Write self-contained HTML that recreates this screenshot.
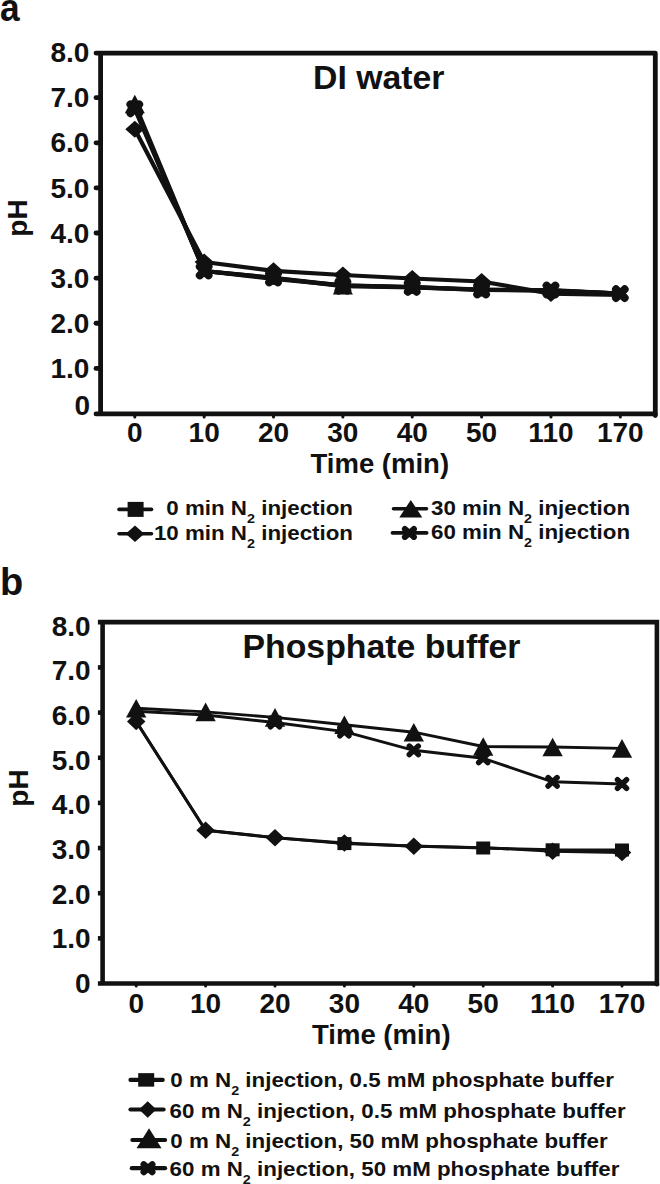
<!DOCTYPE html>
<html><head><meta charset="utf-8"><style>
html,body{margin:0;padding:0;background:#fff;width:660px;height:1184px;overflow:hidden}
svg{display:block}
text{font-family:"Liberation Sans", sans-serif;font-weight:bold;fill:#111}
</style></head><body>
<svg width="660" height="1184" viewBox="0 0 660 1184" fill="#111">
<text transform="translate(0 20.8) scale(0.93 1.04)" font-size="38">a</text>
<text x="0" y="594.7" font-size="38">b</text>
<path d="M96 53.1H655.3V413.9H96M100.6 53.1V413.9" fill="none" stroke="#111" stroke-width="4.8" stroke-linecap="round" stroke-linejoin="round"/>
<path d="M655.3 413.9V415.5" stroke="#111" stroke-width="4.8" stroke-linecap="round"/>
<path d="M96 368.38H100.6" stroke="#111" stroke-width="4.8" stroke-linecap="round"/>
<path d="M96 323.26H100.6" stroke="#111" stroke-width="4.8" stroke-linecap="round"/>
<path d="M96 278.14H100.6" stroke="#111" stroke-width="4.8" stroke-linecap="round"/>
<path d="M96 233.02H100.6" stroke="#111" stroke-width="4.8" stroke-linecap="round"/>
<path d="M96 187.9H100.6" stroke="#111" stroke-width="4.8" stroke-linecap="round"/>
<path d="M96 142.78H100.6" stroke="#111" stroke-width="4.8" stroke-linecap="round"/>
<path d="M96 97.66H100.6" stroke="#111" stroke-width="4.8" stroke-linecap="round"/>
<path d="M134.8 413.9V416.9" stroke="#111" stroke-width="3" stroke-linecap="round"/>
<path d="M204.16 413.9V416.9" stroke="#111" stroke-width="3" stroke-linecap="round"/>
<path d="M273.52 413.9V416.9" stroke="#111" stroke-width="3" stroke-linecap="round"/>
<path d="M342.88 413.9V416.9" stroke="#111" stroke-width="3" stroke-linecap="round"/>
<path d="M412.24 413.9V416.9" stroke="#111" stroke-width="3" stroke-linecap="round"/>
<path d="M481.6 413.9V416.9" stroke="#111" stroke-width="3" stroke-linecap="round"/>
<path d="M550.96 413.9V416.9" stroke="#111" stroke-width="3" stroke-linecap="round"/>
<path d="M620.32 413.9V416.9" stroke="#111" stroke-width="3" stroke-linecap="round"/>
<text x="90.2" y="415.1" text-anchor="end" font-size="28">0</text>
<text x="89.4" y="377.98" text-anchor="end" font-size="28">1.0</text>
<text x="89.4" y="332.86" text-anchor="end" font-size="28">2.0</text>
<text x="89.4" y="287.74" text-anchor="end" font-size="28">3.0</text>
<text x="89.4" y="242.62" text-anchor="end" font-size="28">4.0</text>
<text x="89.4" y="197.5" text-anchor="end" font-size="28">5.0</text>
<text x="89.4" y="152.38" text-anchor="end" font-size="28">6.0</text>
<text x="89.4" y="107.26" text-anchor="end" font-size="28">7.0</text>
<text x="89.4" y="62.14" text-anchor="end" font-size="28">8.0</text>
<text x="134.8" y="442.3" text-anchor="middle" font-size="28">0</text>
<text x="204.16" y="442.3" text-anchor="middle" font-size="28">10</text>
<text x="273.52" y="442.3" text-anchor="middle" font-size="28">20</text>
<text x="342.88" y="442.3" text-anchor="middle" font-size="28">30</text>
<text x="412.24" y="442.3" text-anchor="middle" font-size="28">40</text>
<text x="481.6" y="442.3" text-anchor="middle" font-size="28">50</text>
<text x="550.96" y="442.3" text-anchor="middle" font-size="28">110</text>
<text x="620.32" y="442.3" text-anchor="middle" font-size="28">170</text>
<text x="310.5" y="473.3" font-size="27.5">Time (min)</text>
<text transform="translate(26.5 218) rotate(-90)" text-anchor="middle" font-size="28">pH</text>
<text x="313" y="88.5" font-size="33.8">DI water</text>
<path d="M134.8 107L204.16 271L273.52 277.8L342.88 285.5L412.24 287L481.6 289.5L550.96 290.5L620.32 293.5" fill="none" stroke="#111" stroke-width="4.2" stroke-linejoin="round"/>
<path d="M134.8 129.3L204.16 262L273.52 270.8L342.88 275L412.24 278.5L481.6 281.5L550.96 293.6L620.32 295" fill="none" stroke="#111" stroke-width="4.2" stroke-linejoin="round"/>
<path d="M134.8 104L204.16 271L273.52 279L342.88 285.3L412.24 287.2L481.6 289.8L550.96 290.6L620.32 293.5" fill="none" stroke="#111" stroke-width="4.2" stroke-linejoin="round"/>
<path d="M134.8 108.8L204.16 271L273.52 278L342.88 286.2L412.24 287.4L481.6 290L550.96 290L620.32 293.6" fill="none" stroke="#111" stroke-width="4.2" stroke-linejoin="round"/>
<rect x="266.02" y="270.8" width="15" height="14"/>
<rect x="335.38" y="278.5" width="15" height="14"/>
<rect x="404.74" y="280" width="15" height="14"/>
<rect x="474.1" y="282.5" width="15" height="14"/>
<path d="M125.3 129.3L134.8 120.8L144.3 129.3L134.8 137.8Z"/>
<path d="M194.66 262L204.16 253.5L213.66 262L204.16 270.5Z"/>
<path d="M264.02 270.8L273.52 262.3L283.02 270.8L273.52 279.3Z"/>
<path d="M333.38 275L342.88 266.5L352.38 275L342.88 283.5Z"/>
<path d="M402.74 278.5L412.24 270L421.74 278.5L412.24 287Z"/>
<path d="M472.1 281.5L481.6 273L491.1 281.5L481.6 290Z"/>
<path d="M541.46 293.6L550.96 285.1L560.46 293.6L550.96 302.1Z"/>
<path d="M124.8 113.2L134.8 94.8L144.8 113.2Z"/>
<path d="M332.88 294.5L342.88 276.1L352.88 294.5Z"/>
<path d="M130.45 104.45L139.15 113.15M139.15 104.45L130.45 113.15" fill="none" stroke="#111" stroke-width="8" stroke-linecap="round"/>
<path d="M199.81 266.65L208.51 275.35M208.51 266.65L199.81 275.35" fill="none" stroke="#111" stroke-width="8" stroke-linecap="round"/>
<path d="M269.17 273.65L277.87 282.35M277.87 273.65L269.17 282.35" fill="none" stroke="#111" stroke-width="8" stroke-linecap="round"/>
<path d="M338.53 281.85L347.23 290.55M347.23 281.85L338.53 290.55" fill="none" stroke="#111" stroke-width="8" stroke-linecap="round"/>
<path d="M407.89 283.05L416.59 291.75M416.59 283.05L407.89 291.75" fill="none" stroke="#111" stroke-width="8" stroke-linecap="round"/>
<path d="M477.25 285.65L485.95 294.35M485.95 285.65L477.25 294.35" fill="none" stroke="#111" stroke-width="8" stroke-linecap="round"/>
<path d="M546.61 285.65L555.31 294.35M555.31 285.65L546.61 294.35" fill="none" stroke="#111" stroke-width="8" stroke-linecap="round"/>
<path d="M615.97 289.25L624.67 297.95M624.67 289.25L615.97 297.95" fill="none" stroke="#111" stroke-width="8" stroke-linecap="round"/>
<path d="M97.9 622.1H656.9V983.5H97.9M102.6 622.1V983.5" fill="none" stroke="#111" stroke-width="4.6" stroke-linecap="butt" stroke-linejoin="miter"/>
<path d="M656.9 983.5V984.3" stroke="#111" stroke-width="4.6" stroke-linecap="round"/>
<path d="M97.9 938.35H102.6" stroke="#111" stroke-width="4.6" stroke-linecap="butt"/>
<path d="M97.9 893.2H102.6" stroke="#111" stroke-width="4.6" stroke-linecap="butt"/>
<path d="M97.9 848.05H102.6" stroke="#111" stroke-width="4.6" stroke-linecap="butt"/>
<path d="M97.9 802.9H102.6" stroke="#111" stroke-width="4.6" stroke-linecap="butt"/>
<path d="M97.9 757.75H102.6" stroke="#111" stroke-width="4.6" stroke-linecap="butt"/>
<path d="M97.9 712.6H102.6" stroke="#111" stroke-width="4.6" stroke-linecap="butt"/>
<path d="M97.9 667.45H102.6" stroke="#111" stroke-width="4.6" stroke-linecap="butt"/>
<path d="M136.2 983.5V986" stroke="#111" stroke-width="3" stroke-linecap="round"/>
<path d="M205.6 983.5V986" stroke="#111" stroke-width="3" stroke-linecap="round"/>
<path d="M275 983.5V986" stroke="#111" stroke-width="3" stroke-linecap="round"/>
<path d="M344.4 983.5V986" stroke="#111" stroke-width="3" stroke-linecap="round"/>
<path d="M413.8 983.5V986" stroke="#111" stroke-width="3" stroke-linecap="round"/>
<path d="M483.2 983.5V986" stroke="#111" stroke-width="3" stroke-linecap="round"/>
<path d="M552.6 983.5V986" stroke="#111" stroke-width="3" stroke-linecap="round"/>
<path d="M622 983.5V986" stroke="#111" stroke-width="3" stroke-linecap="round"/>
<text x="90.6" y="993.1" text-anchor="end" font-size="28">0</text>
<text x="90.6" y="948.4" text-anchor="end" font-size="28">1.0</text>
<text x="90.6" y="903.7" text-anchor="end" font-size="28">2.0</text>
<text x="90.6" y="859" text-anchor="end" font-size="28">3.0</text>
<text x="90.6" y="814.3" text-anchor="end" font-size="28">4.0</text>
<text x="90.6" y="769.6" text-anchor="end" font-size="28">5.0</text>
<text x="90.6" y="724.9" text-anchor="end" font-size="28">6.0</text>
<text x="90.6" y="680.2" text-anchor="end" font-size="28">7.0</text>
<text x="90.6" y="635.5" text-anchor="end" font-size="28">8.0</text>
<text x="136.2" y="1012.8" text-anchor="middle" font-size="28">0</text>
<text x="205.6" y="1012.8" text-anchor="middle" font-size="28">10</text>
<text x="275" y="1012.8" text-anchor="middle" font-size="28">20</text>
<text x="344.4" y="1012.8" text-anchor="middle" font-size="28">30</text>
<text x="413.8" y="1012.8" text-anchor="middle" font-size="28">40</text>
<text x="483.2" y="1012.8" text-anchor="middle" font-size="28">50</text>
<text x="552.6" y="1012.8" text-anchor="middle" font-size="28">110</text>
<text x="622" y="1012.8" text-anchor="middle" font-size="28">170</text>
<text x="312" y="1043.9" font-size="27.5">Time (min)</text>
<text transform="translate(28 788) rotate(-90)" text-anchor="middle" font-size="28">pH</text>
<text x="242.5" y="657.8" font-size="33.8">Phosphate buffer</text>
<path d="M136.2 721.5L205.6 830.2L275 837.6L344.4 843.6L413.8 846L483.2 848L552.6 849.8L622 850" fill="none" stroke="#111" stroke-width="2.9" stroke-linejoin="round"/>
<path d="M136.2 721.5L205.6 830.2L275 837.8L344.4 843L413.8 846.3L483.2 847.6L552.6 851.3L622 852.5" fill="none" stroke="#111" stroke-width="2.9" stroke-linejoin="round"/>
<path d="M136.2 711.3L205.6 715L275 722.5L344.4 731.6L413.8 750.3L483.2 758.3L552.6 781.8L622 784" fill="none" stroke="#111" stroke-width="2.9" stroke-linejoin="round"/>
<path d="M136.2 708.3L205.6 711.9L275 717.4L344.4 724.8L413.8 732.2L483.2 746.5L552.6 747L622 748.4" fill="none" stroke="#111" stroke-width="2.9" stroke-linejoin="round"/>
<rect x="337.4" y="837.1" width="14" height="13"/>
<rect x="476.2" y="841.5" width="14" height="13"/>
<rect x="545.6" y="843.3" width="14" height="13"/>
<rect x="615" y="843.5" width="14" height="13"/>
<path d="M126.95 721.5L136.2 712.75L145.45 721.5L136.2 730.25Z"/>
<path d="M196.35 830.2L205.6 821.45L214.85 830.2L205.6 838.95Z"/>
<path d="M265.75 837.8L275 829.05L284.25 837.8L275 846.55Z"/>
<path d="M335.15 843L344.4 834.25L353.65 843L344.4 851.75Z"/>
<path d="M404.55 846.3L413.8 837.55L423.05 846.3L413.8 855.05Z"/>
<path d="M543.35 851.3L552.6 842.55L561.85 851.3L552.6 860.05Z"/>
<path d="M612.75 852.5L622 843.75L631.25 852.5L622 861.25Z"/>
<path d="M270.5 718.25L279.5 726.75M279.5 718.25L270.5 726.75" fill="none" stroke="#111" stroke-width="5.5" stroke-linecap="round"/>
<path d="M339.9 727.35L348.9 735.85M348.9 727.35L339.9 735.85" fill="none" stroke="#111" stroke-width="5.5" stroke-linecap="round"/>
<path d="M409.3 746.05L418.3 754.55M418.3 746.05L409.3 754.55" fill="none" stroke="#111" stroke-width="5.5" stroke-linecap="round"/>
<path d="M478.7 754.05L487.7 762.55M487.7 754.05L478.7 762.55" fill="none" stroke="#111" stroke-width="5.5" stroke-linecap="round"/>
<path d="M548.1 777.55L557.1 786.05M557.1 777.55L548.1 786.05" fill="none" stroke="#111" stroke-width="5.5" stroke-linecap="round"/>
<path d="M617.5 779.75L626.5 788.25M626.5 779.75L617.5 788.25" fill="none" stroke="#111" stroke-width="5.5" stroke-linecap="round"/>
<path d="M126.05 717.6L136.2 699L146.35 717.6Z"/>
<path d="M195.45 721.2L205.6 702.6L215.75 721.2Z"/>
<path d="M264.85 726.7L275 708.1L285.15 726.7Z"/>
<path d="M334.25 734.1L344.4 715.5L354.55 734.1Z"/>
<path d="M403.65 741.5L413.8 722.9L423.95 741.5Z"/>
<path d="M473.05 755.8L483.2 737.2L493.35 755.8Z"/>
<path d="M542.45 756.3L552.6 737.7L562.75 756.3Z"/>
<path d="M611.85 757.7L622 739.1L632.15 757.7Z"/>
<path d="M119 509.4H151.5" stroke="#111" stroke-width="3.6" stroke-linecap="round"/>
<rect x="127.6" y="501.9" width="16" height="15"/>
<path d="M119 533.8H151.5" stroke="#111" stroke-width="3.6" stroke-linecap="round"/>
<path d="M125.75 533.8L135 525.55L144.25 533.8L135 542.05Z"/>
<path d="M393.5 508.7H426.5" stroke="#111" stroke-width="3.6" stroke-linecap="round"/>
<path d="M399.3 517.45L410.8 499.95L422.3 517.45Z"/>
<path d="M392.4 532.9H426.7" stroke="#111" stroke-width="3.6" stroke-linecap="round"/>
<path d="M404.9 528.9L413.9 536.9M413.9 528.9L404.9 536.9" fill="none" stroke="#111" stroke-width="6" stroke-linecap="round"/>
<text transform="translate(353 515.4) scale(1.064 1)" font-size="21" text-anchor="end">0 min N<tspan font-size="13.5" dy="8">2</tspan><tspan dy="-8"> injection</tspan></text>
<text transform="translate(353 540.2) scale(1.064 1)" font-size="21" text-anchor="end">10 min N<tspan font-size="13.5" dy="8">2</tspan><tspan dy="-8"> injection</tspan></text>
<text transform="translate(431 514.9) scale(1.064 1)" font-size="21" text-anchor="start">30 min N<tspan font-size="13.5" dy="8">2</tspan><tspan dy="-8"> injection</tspan></text>
<text transform="translate(431 539.3) scale(1.064 1)" font-size="21" text-anchor="start">60 min N<tspan font-size="13.5" dy="8">2</tspan><tspan dy="-8"> injection</tspan></text>
<path d="M130.5 1079.9H162.7" stroke="#111" stroke-width="4.2" stroke-linecap="round"/>
<rect x="138.2" y="1073.15" width="16" height="13.5"/>
<path d="M130.5 1109.5H163.6" stroke="#111" stroke-width="4.2" stroke-linecap="round"/>
<path d="M139 1109.5L147.7 1101.35L156.4 1109.5L147.7 1117.65Z"/>
<path d="M132.4 1140H165.1" stroke="#111" stroke-width="4.2" stroke-linecap="round"/>
<path d="M136.5 1148.2L149 1128.2L161.5 1148.2Z"/>
<path d="M131.8 1168.2H165.1" stroke="#111" stroke-width="4.2" stroke-linecap="round"/>
<path d="M143.75 1164.45L152.25 1171.95M152.25 1164.45L143.75 1171.95" fill="none" stroke="#111" stroke-width="6.5" stroke-linecap="round"/>
<text transform="translate(170.3 1087.4) scale(1.064 1)" font-size="21" text-anchor="start">0 m N<tspan font-size="13.5" dy="8">2</tspan><tspan dy="-8"> injection, 0.5 mM phosphate buffer</tspan></text>
<text transform="translate(169.6 1118.3) scale(1.064 1)" font-size="21" text-anchor="start">60 m N<tspan font-size="13.5" dy="8">2</tspan><tspan dy="-8"> injection, 0.5 mM phosphate buffer</tspan></text>
<text transform="translate(170.3 1148) scale(1.064 1)" font-size="21" text-anchor="start">0 m N<tspan font-size="13.5" dy="8">2</tspan><tspan dy="-8"> injection, 50 mM phosphate buffer</tspan></text>
<text transform="translate(169.6 1175.9) scale(1.064 1)" font-size="21" text-anchor="start">60 m N<tspan font-size="13.5" dy="8">2</tspan><tspan dy="-8"> injection, 50 mM phosphate buffer</tspan></text>
</svg>
</body></html>
